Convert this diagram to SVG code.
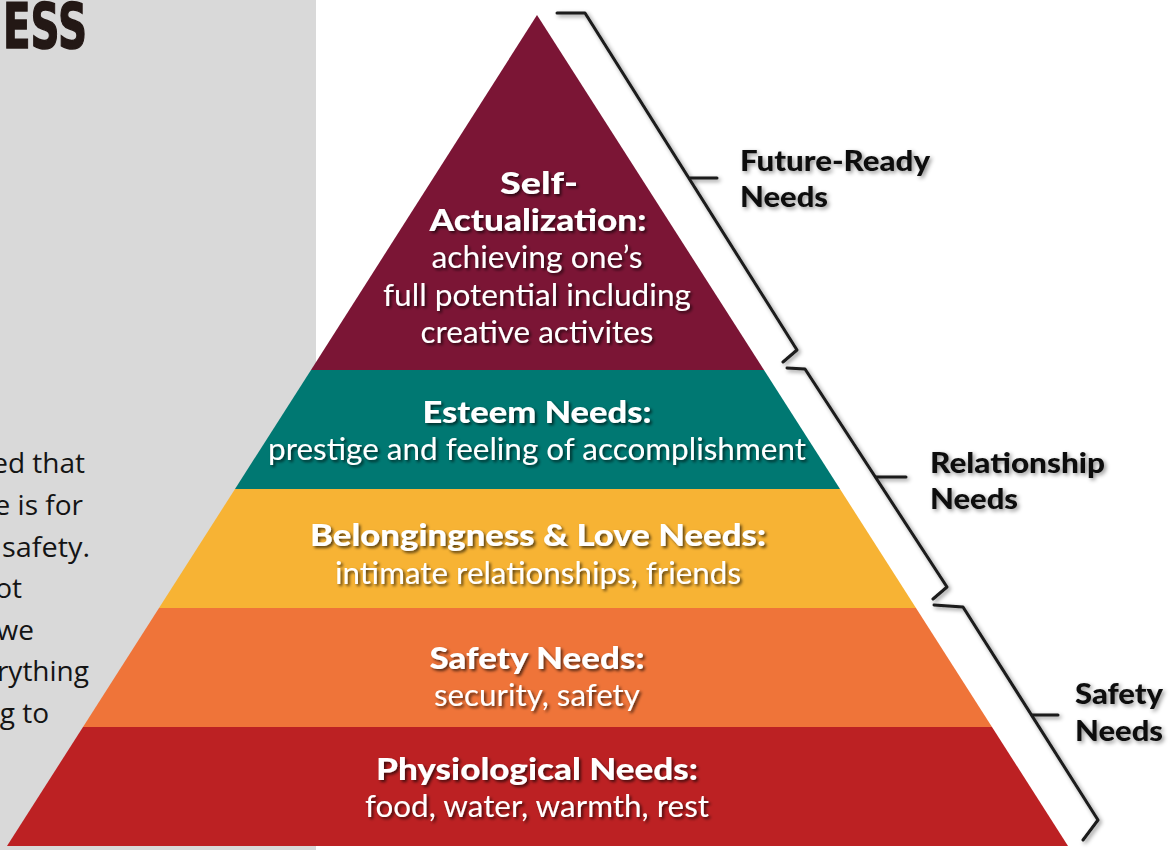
<svg xmlns="http://www.w3.org/2000/svg" width="1171" height="850" viewBox="0 0 1171 850">
<defs>
<filter id="ts" x="-10%" y="-30%" width="120%" height="160%">
<feDropShadow dx="2" dy="2" stdDeviation="1.6" flood-color="#000" flood-opacity="0.65"/>
</filter>
<filter id="ls" x="-10%" y="-30%" width="120%" height="160%">
<feDropShadow dx="2" dy="2" stdDeviation="2" flood-color="#000" flood-opacity="0.45"/>
</filter>
</defs>
<style>
.pt{font-family:Lato,"Liberation Sans",sans-serif;font-size:31px;fill:#fff;text-anchor:middle;}
.b{font-weight:900;font-size:30px;}
.lbl{font-family:Lato,"Liberation Sans",sans-serif;font-size:29px;font-weight:900;fill:#111;}
.side{font-family:"Open Sans","Liberation Sans",sans-serif;font-size:28px;fill:#141414;text-anchor:end;}
.br{fill:none;stroke:#1a1a1a;stroke-width:3;stroke-linejoin:round;stroke-linecap:round;}
</style>
<rect x="0" y="0" width="1171" height="850" fill="#fff"/>
<rect x="0" y="0" width="316" height="850" fill="#d9d9d9"/>
<g id="heading">
<text x="87" y="48" font-family="'DejaVu Sans',sans-serif" font-weight="700" font-size="62" fill="#231815" stroke="#231815" stroke-width="1.5" text-anchor="end" textLength="84" lengthAdjust="spacingAndGlyphs">ESS</text>
</g>
<g id="side-text" class="side">
<text x="85" y="473">ed that</text>
<text x="83" y="515">e is for</text>
<text x="90" y="557" textLength="88" lengthAdjust="spacingAndGlyphs">safety.</text>
<text x="22" y="598">ot</text>
<text x="34" y="640">we</text>
<text x="89" y="681">rything</text>
<text x="49" y="723">g to</text>
</g>
<g id="level-self-actualization">
<polygon points="537,15 764,370 311,370" fill="#7b1535"/>
<g filter="url(#ts)">
<text class="pt b" x="539" y="194" textLength="78" lengthAdjust="spacingAndGlyphs">Self-</text>
<text class="pt b" x="538" y="231" textLength="217" lengthAdjust="spacingAndGlyphs">Actualization:</text>
<text class="pt" x="537" y="268" textLength="211" lengthAdjust="spacingAndGlyphs">achieving one’s</text>
<text class="pt" x="537" y="306" textLength="308" lengthAdjust="spacingAndGlyphs">full potential including</text>
<text class="pt" x="537" y="343" textLength="233" lengthAdjust="spacingAndGlyphs">creative activites</text>
</g>
</g>
<g id="level-esteem">
<polygon points="311,370 764,370 840,489 235,489" fill="#007872"/>
<g filter="url(#ts)">
<text class="pt b" x="537" y="423" textLength="229" lengthAdjust="spacingAndGlyphs">Esteem Needs:</text>
<text class="pt" x="537" y="460" textLength="538" lengthAdjust="spacingAndGlyphs">prestige and feeling of accomplishment</text>
</g>
</g>
<g id="level-belonging">
<polygon points="235,489 840,489 916,608 159,608" fill="#f7b334"/>
<g filter="url(#ts)">
<text class="pt b" x="538" y="546" textLength="456" lengthAdjust="spacingAndGlyphs">Belongingness &amp; Love Needs:</text>
<text class="pt" x="538" y="584" textLength="406" lengthAdjust="spacingAndGlyphs">intimate relationships, friends</text>
</g>
</g>
<g id="level-safety">
<polygon points="159,608 916,608 992,727 83,727" fill="#ef7439"/>
<g filter="url(#ts)">
<text class="pt b" x="537" y="669" textLength="215" lengthAdjust="spacingAndGlyphs">Safety Needs:</text>
<text class="pt" x="537" y="706" textLength="206" lengthAdjust="spacingAndGlyphs">security, safety</text>
</g>
</g>
<g id="level-physiological">
<polygon points="83,727 992,727 1068,846 7,846" fill="#bc2123"/>
<g filter="url(#ts)">
<text class="pt b" x="537" y="780" textLength="322" lengthAdjust="spacingAndGlyphs">Physiological Needs:</text>
<text class="pt" x="537" y="817" textLength="344" lengthAdjust="spacingAndGlyphs">food, water, warmth, rest</text>
</g>
</g>
<g id="connectors" filter="url(#ls)">
<path class="br" d="M557,13 L585,13 L797,350 L783,362"/>
<path class="br" d="M690,178 L717,178"/>
<path class="br" d="M787,368 L805,369 L947,587 L933,599"/>
<path class="br" d="M876,477 L906,477"/>
<path class="br" d="M934,605 L963,607 L1098,820 L1083,840"/>
<path class="br" d="M1032,715 L1058,715"/>
</g>
<g id="label-future-ready" filter="url(#ls)">
<text class="lbl" x="740" y="171" textLength="190" lengthAdjust="spacingAndGlyphs">Future-Ready</text>
<text class="lbl" x="740" y="207" textLength="88" lengthAdjust="spacingAndGlyphs">Needs</text>
</g>
<g id="label-relationship" filter="url(#ls)">
<text class="lbl" x="930" y="473" textLength="175" lengthAdjust="spacingAndGlyphs">Relationship</text>
<text class="lbl" x="930" y="509" textLength="88" lengthAdjust="spacingAndGlyphs">Needs</text>
</g>
<g id="label-safety" filter="url(#ls)">
<text class="lbl" x="1075" y="704" textLength="88" lengthAdjust="spacingAndGlyphs">Safety</text>
<text class="lbl" x="1075" y="741" textLength="88" lengthAdjust="spacingAndGlyphs">Needs</text>
</g>
</svg>
